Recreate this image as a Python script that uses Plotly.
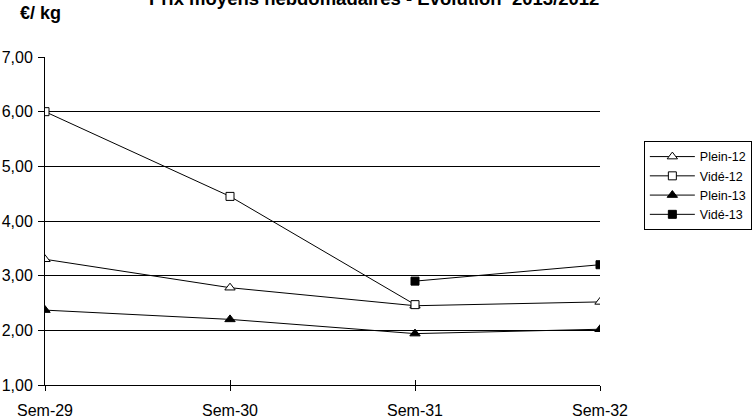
import plotly.graph_objects as go

weeks = ["Sem-29", "Sem-30", "Sem-31", "Sem-32"]
plein_12 = [3.30, 2.78, 2.45, 2.52]
vide_12 = [6.00, 4.45, 2.47, None]
plein_13 = [2.37, 2.20, 1.94, 2.02]
vide_13 = [None, None, 2.90, 3.20]
y_ticks = [1, 2, 3, 4, 5, 6, 7]

xpos = list(range(len(weeks)))
FONT = "Liberation Sans, Arial, sans-serif"

series = [
    ("Plein-12", plein_12, "triangle-up", "white", 9),
    ("Vidé-12", vide_12, "square", "white", 8),
    ("Plein-13", plein_13, "triangle-up", "black", 9),
    ("Vidé-13", vide_13, "square", "black", 8),
]

fig = go.Figure()
for name, vals, sym, fill, sz in series:
    fig.add_trace(go.Scatter(
        x=xpos, y=vals, name=name, mode="lines+markers",
        line=dict(color="black", width=1),
        marker=dict(symbol=sym, size=sz, color=fill,
                    line=dict(color="black", width=1)),
        connectgaps=False,
    ))

# overlay axis for inward x tick marks
fig.add_trace(go.Scatter(x=[xpos[0]], y=[None], xaxis="x2", showlegend=False,
                         hoverinfo="skip"))

fig.update_layout(
    width=753, height=419,
    margin=dict(l=45, r=153, t=57, b=34, autoexpand=False),
    paper_bgcolor="white", plot_bgcolor="white",
    separators=", ",
    font=dict(family=FONT, size=16, color="black"),
    showlegend=True,
    legend=dict(
        x=1.079, y=0.744, xanchor="left", yanchor="top",
        bordercolor="black", borderwidth=1,
        font=dict(family=FONT, size=12.5, color="black"),
        itemwidth=45, tracegroupgap=0,
    ),
    xaxis=dict(
        range=[0, 3], tickvals=xpos, ticktext=weeks,
        showgrid=False, zeroline=False,
        showline=True, linecolor="black", linewidth=1,
        ticks="outside", ticklen=5, tickcolor="black", tickwidth=1,
        tickfont=dict(family=FONT, size=16),
        ticklabelstandoff=6,
    ),
    xaxis2=dict(
        range=[0, 3], tickvals=xpos, overlaying="x", side="bottom",
        showticklabels=False, showgrid=False, zeroline=False,
        ticks="inside", ticklen=5, tickcolor="black", tickwidth=1,
        showline=False,
    ),
    yaxis=dict(
        range=[1, 7], tickvals=y_ticks, tickformat=".2f",
        showgrid=True, gridcolor="black", gridwidth=1,
        zeroline=False,
        showline=True, linecolor="black", linewidth=1,
        ticks="outside", ticklen=6, tickcolor="black", tickwidth=1,
        tickfont=dict(family=FONT, size=16),
        ticklabelstandoff=2,
    ),
    annotations=[
        dict(text="<b>Prix moyens hebdomadaires - Evolution  2013/2012</b>",
             xref="paper", yref="paper", x=0.592, y=1.178,
             xanchor="center", yanchor="middle", showarrow=False,
             font=dict(family=FONT, size=18.5, color="black")),
        dict(text="<b>€/ kg</b>",
             xref="paper", yref="paper", x=-0.0486, y=1.134,
             xanchor="left", yanchor="middle", showarrow=False,
             font=dict(family=FONT, size=18, color="black")),
    ],
)

fig.write_html("out.html", config={"displayModeBar": False},
               post_script="document.body.style.margin='0';")
